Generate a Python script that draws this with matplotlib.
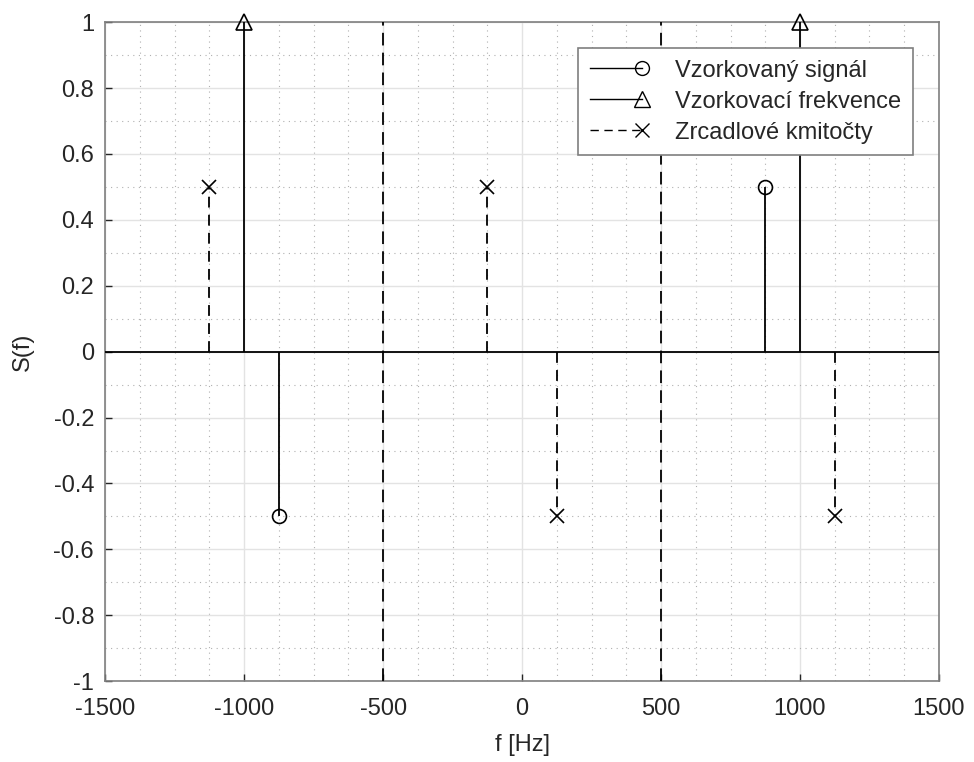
import matplotlib
matplotlib.use("Agg")
import matplotlib.pyplot as plt
from matplotlib.lines import Line2D
from matplotlib.legend_handler import HandlerLine2DCompound
from matplotlib.ticker import MultipleLocator

plt.rcParams.update({"font.family": ["Liberation Sans", "DejaVu Sans"],
                     "font.size": 17, "axes.unicode_minus": False})

# data
f_sig = [-875, 875]
s_sig = [-0.5, 0.5]
f_samp = [-1000, 1000]
s_samp = [1, 1]
f_img = [-1125, -125, 125, 1125]
s_img = [0.5, 0.5, -0.5, -0.5]
f_nyq = [-500, 500]
labels = ["Vzorkovaný signál", "Vzorkovací frekvence", "Zrcadlové kmitočty"]
yticks = [-1, -0.8, -0.6, -0.4, -0.2, 0, 0.2, 0.4, 0.6, 0.8, 1]
ytick_labels = ["-1", "-0.8", "-0.6", "-0.4", "-0.2", "0", "0.2", "0.4", "0.6", "0.8", "1"]

INK = "#262626"
DASH = (6, 4)


class EndMarker(HandlerLine2DCompound):
    # MATLAB-style legend entry: line with the marker at its right end
    def create_artists(self, legend, orig_handle, xdescent, ydescent, width,
                       height, fontsize, trans):
        line, marker = super().create_artists(legend, orig_handle, xdescent, ydescent,
                                              width, height, fontsize, trans)
        xs = line.get_xdata()
        xend = xs[-1] - 0.3 * fontsize
        line.set_xdata([xs[0], xend])
        marker.set_xdata([xend])
        marker.set_ydata([line.get_ydata()[0]])
        return [line, marker]


fig = plt.figure(figsize=(9.74, 7.62), dpi=100)
ax = fig.add_axes([0.108, 0.106, 0.856, 0.865])

def stems(x, y, marker, dashed=False, ms=10):
    ax.vlines(x, 0, y, colors="black", lw=1.3,
              linestyles=(0, DASH) if dashed else "solid", zorder=3)
    ax.plot(x, y, ls="none", marker=marker, ms=ms, mfc="none", mec="black",
            mew=1.2, zorder=4, clip_on=False)

stems(f_sig, s_sig, "o")
stems(f_samp, s_samp, "^", ms=11)
stems(f_img, s_img, "x", dashed=True, ms=10)
ax.axhline(0, color="black", lw=1.3, zorder=3)
for xv in f_nyq:
    ax.axvline(xv, color="black", lw=1.3, ls=(0, (7, 4)), zorder=3)

ax.set_xlim(-1500, 1500)
ax.set_ylim(-1, 1)
ax.xaxis.set_major_locator(MultipleLocator(500))
ax.xaxis.set_minor_locator(MultipleLocator(125))
ax.yaxis.set_minor_locator(MultipleLocator(0.1))
ax.set_yticks(yticks)
ax.set_yticklabels(ytick_labels)
ax.grid(True, which="major", color="#e3e3e3", lw=1.0, zorder=0)
ax.grid(True, which="minor", color="#b0b0b0", lw=0.8, ls=(0, (1, 4)), zorder=0)
ax.set_axisbelow(True)
ax.tick_params(which="both", direction="in", colors=INK, labelcolor=INK)
ax.tick_params(which="major", length=5, width=1)
ax.tick_params(axis="y", pad=8)
ax.tick_params(axis="x", pad=12)
ax.tick_params(which="minor", length=0)
for sp in ax.spines.values():
    sp.set_color("#7f7f7f")
    sp.set_linewidth(1.2)
ax.set_xlabel("f [Hz]", color=INK, labelpad=10)
ax.set_ylabel("S(f)", color=INK, labelpad=14)

handles = [
    Line2D([], [], color="black", lw=1.0, marker="o", ms=10, mfc="none", mec="black"),
    Line2D([], [], color="black", lw=1.0, marker="^", ms=11, mfc="none", mec="black"),
    Line2D([], [], color="black", lw=1.0, ls=(0, DASH), marker="x", ms=10, mec="black"),
]
leg = ax.legend(handles, labels, loc="upper right", bbox_to_anchor=(0.969, 0.961),
                borderaxespad=0, handler_map={Line2D: EndMarker()}, numpoints=1,
                handlelength=2.5, handletextpad=1.1, fontsize=17,
                fancybox=False, framealpha=1, edgecolor="#7f7f7f", borderpad=0.5,
                labelspacing=0.38)
leg.get_frame().set_linewidth(1.2)
for t in leg.get_texts():
    t.set_color(INK)

fig.savefig("out.png", dpi=100)
